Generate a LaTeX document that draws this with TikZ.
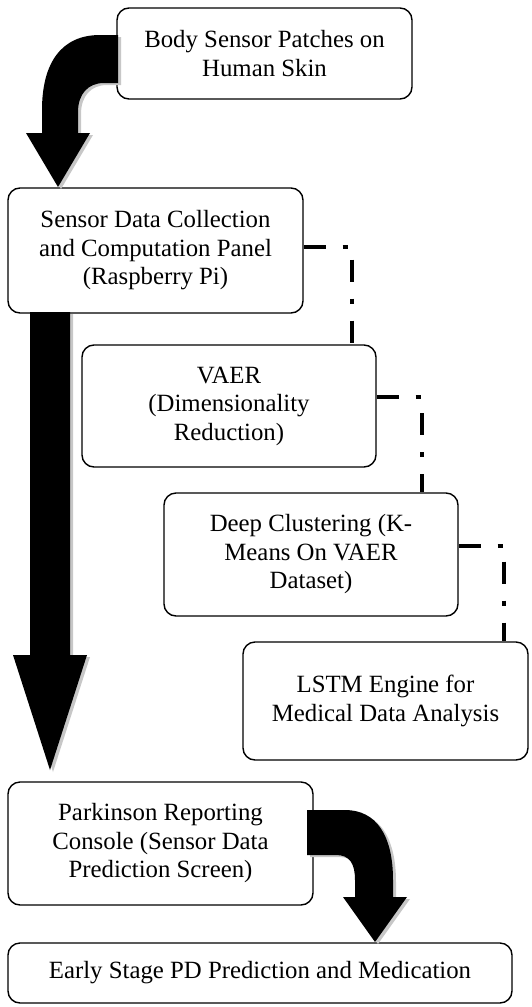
\documentclass[tikz,border=0pt]{standalone}
\usepackage{fontspec}
\setmainfont{Liberation Serif}
\usetikzlibrary{calc}

\begin{document}
\begin{tikzpicture}[
        x=1pt, y=-1pt,
        stage/.style={draw, line width=1.4pt, rounded corners=12pt, fill=white, align=center, inner sep=0pt, font=\fontsize{24.8}{28.5}\selectfont},
        link/.style={line width=4pt, dash pattern={on 22pt off 17pt on 5pt off 17pt}},
        fatarrow/.style={fill=black},
        fatshadow/.style={fill=black!22}
    ]
        \useasboundingbox (0, 0) rectangle (532, 1007);

        % Stages
        \node[stage, minimum width=295pt, minimum height=91pt] (skin) at (264.5, 53.5) {Body Sensor Patches on\\Human Skin};
        \node[stage, minimum width=295pt, minimum height=125pt] (collect) at (155.5, 250.5) {Sensor Data Collection\\and Computation Panel\\(Raspberry Pi)};
        \node[stage, minimum width=294pt, minimum height=122pt] (vaer) at (229, 406) {VAER\\(Dimensionality\\Reduction)};
        \node[stage, minimum width=294pt, minimum height=123pt] (cluster) at (311, 554.5) {Deep Clustering (K-\\Means On VAER\\Dataset)};
        \node[stage, minimum width=285pt, minimum height=118pt] (lstm) at (385.5, 701) {LSTM Engine for\\Medical Data Analysis};
        \node[stage, minimum width=305pt, minimum height=123pt] (report) at (160.5, 843.5) {Parkinson Reporting\\Console (Sensor Data\\Prediction Screen)};
        \node[stage, minimum width=504pt, minimum height=60pt] (early) at (260, 973) {Early Stage PD Prediction and Medication};

        % Dash-dot links
        \draw[link] ([yshift=4pt]collect.east) -| ([xshift=-25pt]vaer.north east);
        \draw[link] ([yshift=9pt]vaer.east) -| ([xshift=-37pt]cluster.north east);
        \draw[link] ([yshift=9pt]cluster.east) -| ([xshift=-25pt]lstm.north east);

        % Fat arrows (shadow first)
        \foreach \style/\dx/\dy in {fatshadow/3/2, fatarrow/0/0} {
            \begin{scope}[shift={(\dx,\dy)}]
                % skin -> collect
                \fill[\style] (118,35) -- (100,35) .. controls (62,35) and (42,62) .. (42,110) -- (42,133) -- (26,133) -- (58,187) -- (90,133) -- (78,133) -- (78,112) .. controls (78,94) and (88,83) .. (104,83) -- (118,83) -- cycle;
                % collect -> report
                \fill[\style] (30,312) -- (70,312) -- (70,655) -- (87,655) -- (50,770) -- (13,655) -- (30,655) -- cycle;
                % report -> early
                \fill[\style] (307,810) -- (345,810) .. controls (376,810) and (393,835) .. (393,880) -- (393,897) -- (407,897) -- (375,942) -- (343,897) -- (355,897) -- (355,880) .. controls (355,864) and (350,855) .. (336,855) -- (307,855) -- cycle;
            \end{scope}
        }
    \end{tikzpicture}
\end{document}
